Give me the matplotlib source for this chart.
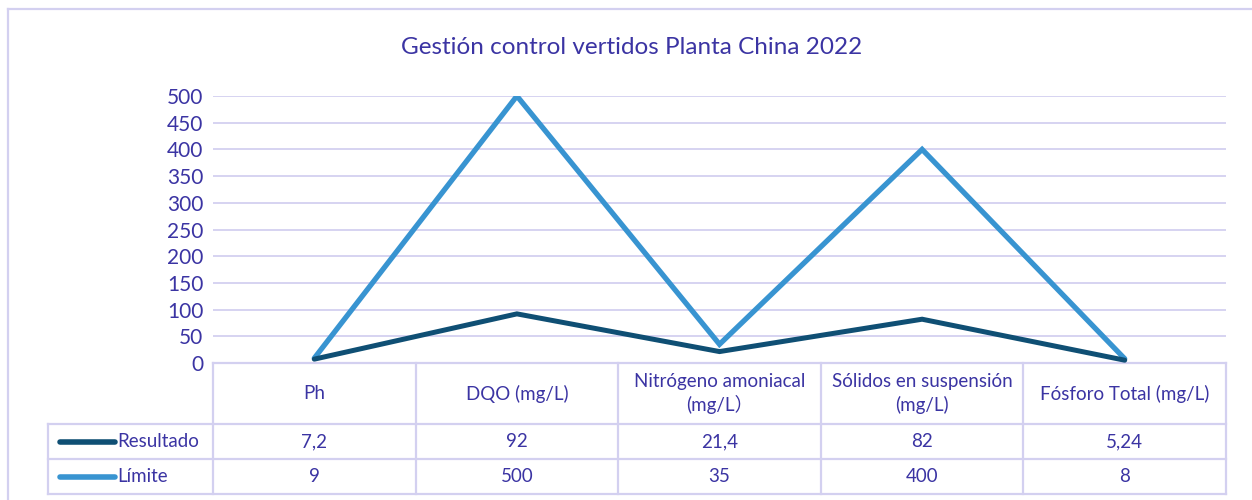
import numpy as np
import matplotlib.pyplot as plt
from matplotlib.lines import Line2D
from matplotlib.transforms import blended_transform_factory

plt.rcParams['font.family'] = ['Lato', 'Noto Sans CJK SC', 'DejaVu Sans']

# Data
categorias = ['Ph', 'DQO (mg/L)', 'Nitrógeno amoniacal\n(mg/L）', 'Sólidos en suspensión\n(mg/L)', 'Fósforo Total (mg/L)']
resultado = [7.2, 92, 21.4, 82, 5.24]
limite = [9, 500, 35, 400, 8]
resultado_txt = ['7,2', '92', '21,4', '82', '5,24']
limite_txt = ['9', '500', '35', '400', '8']
yticks = np.arange(0, 501, 50)

text_col = '#3b34a3'
grid_col = '#d3d0f0'
c_res = '#0f4f74'
c_lim = '#3894d1'

W, H = 1252, 500
fig = plt.figure(figsize=(W / 100, H / 100), dpi=100)
fig.patch.set_facecolor('white')

# outer frame of the chart
fig.add_artist(Line2D([8 / W, 8 / W], [0, 1 - 9 / H], transform=fig.transFigure, color=grid_col, lw=1.6))
fig.add_artist(Line2D([8 / W, 1], [1 - 9 / H, 1 - 9 / H], transform=fig.transFigure, color=grid_col, lw=1.6))

x0, x1, y0, y1 = 213, 1226, 363, 96
ax = fig.add_axes([x0 / W, 1 - y0 / H, (x1 - x0) / W, (y0 - y1) / H])

x = np.arange(len(categorias))
ax.plot(x, limite, color=c_lim, lw=3.8, solid_capstyle='round', solid_joinstyle='miter', zorder=3)
ax.plot(x, resultado, color=c_res, lw=3.6, solid_capstyle='round', solid_joinstyle='miter', zorder=4)

ax.set_xlim(-0.5, len(categorias) - 0.5)
ax.set_ylim(0, 500)
ax.set_yticks(yticks)
ax.set_yticklabels([str(v) for v in yticks], fontsize=15, color=text_col)
ax.set_xticks([])
ax.tick_params(axis='y', length=0, pad=7)
for v in yticks:
    ax.axhline(v, color=grid_col, lw=1.3, zorder=1)
for s in ax.spines.values():
    s.set_visible(False)

fig.text(632 / W, 1 - 47 / H, 'Gestión control vertidos Planta China 2022', fontsize=17.5,
         color=text_col, ha='center', va='center')

# data table below the plot
tr = blended_transform_factory(ax.transData, ax.transAxes)
ph = y0 - y1
row_b = [0, -(424 - 363) / ph, -(459 - 363) / ph, -(494 - 363) / ph]
xl = -0.5 + (48 - x0) / (x1 - x0) * len(categorias)
xr = len(categorias) - 0.5
kw = dict(transform=tr, color=grid_col, lw=1.6, clip_on=False)
ax.add_line(Line2D([-0.5, xr], [row_b[0]] * 2, **kw))
ax.add_line(Line2D([xl, xr], [row_b[1]] * 2, **kw))
ax.add_line(Line2D([xl, xr], [row_b[2]] * 2, **kw))
ax.add_line(Line2D([xl, xr], [row_b[3]] * 2, **kw))
ax.add_line(Line2D([xl, xl], [row_b[1], row_b[3]], **kw))
for i in range(len(categorias) + 1):
    ax.add_line(Line2D([i - 0.5, i - 0.5], [row_b[0], row_b[3]], **kw))

tkw = dict(transform=tr, color=text_col, fontsize=13.5, ha='center', va='center', clip_on=False)
for i, cat in enumerate(categorias):
    ax.text(i, (row_b[0] + row_b[1]) / 2, cat, linespacing=1.35, **tkw)
    ax.text(i, (row_b[1] + row_b[2]) / 2, resultado_txt[i], **tkw)
    ax.text(i, (row_b[2] + row_b[3]) / 2, limite_txt[i], **tkw)

# legend keys inside the table
key_w = (115 - 48) / (x1 - x0) * len(categorias)
pad = (4 / (x1 - x0)) * len(categorias)
for rb, name, col in [((row_b[1] + row_b[2]) / 2, 'Resultado', c_res), ((row_b[2] + row_b[3]) / 2, 'Límite', c_lim)]:
    ax.add_line(Line2D([xl + pad * 3, xl + key_w], [rb, rb], transform=tr, color=col, lw=4,
                       solid_capstyle='round', clip_on=False))
    ax.text(xl + key_w + pad * 0.5, rb, name, transform=tr, color=text_col, fontsize=13.5,
            ha='left', va='center', clip_on=False)

fig.savefig('out.png', dpi=100)
